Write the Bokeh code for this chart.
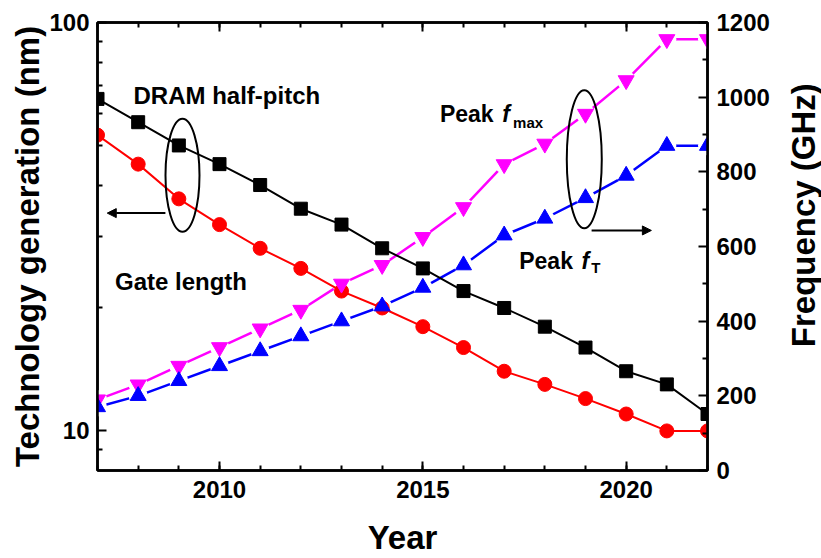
import math

from bokeh.plotting import figure
from bokeh.layouts import row
from bokeh.core.properties import value
from bokeh.models import (Range1d, LinearAxis, LinearScale, FixedTicker, Label, Arrow,
                          NormalHead)
from bokeh.embed import file_html
from bokeh.resources import INLINE

# ---- data -------------------------------------------------------------
years = list(range(2007, 2023))
dram_half_pitch = [65, 57, 50, 45, 40, 35, 32, 28, 25, 22, 20, 18, 16, 14, 13, 11]   # nm
gate_length = [53, 45, 37, 32, 28, 25, 22, 20, 18, 16, 14, 13, 12, 11, 10, 10]       # nm
peak_fmax = [190, 230, 280, 330, 380, 430, 500, 550, 625, 705, 820, 875, 955, 1045, 1155, 1155]  # GHz
peak_ft = [170, 200, 240, 280, 320, 360, 400, 440, 490, 550, 630, 675, 730, 790, 870, 870]       # GHz

year_major = [2010, 2015, 2020]
nm_major = [10, 100]
nm_minor = [9, 20, 30, 40, 50, 60, 70, 80, 90]
ghz_major = [0, 200, 400, 600, 800, 1000, 1200]
ghz_minor = [100, 300, 500, 700, 900, 1100]

FONT = "Liberation Sans"
HEIGHT = 558

p = figure(width=776, height=HEIGHT, x_range=Range1d(2007, 2022), y_range=Range1d(8, 100),
           y_axis_type="log", output_backend="svg", toolbar_location=None,
           min_border_left=97, min_border_right=69, min_border_top=22, min_border_bottom=88,
           background_fill_color="white", border_fill_color="white")
p.extra_y_ranges = {"freq": Range1d(0, 1200)}
p.extra_y_scales = {"freq": LinearScale()}
p.xgrid.visible = False
p.ygrid.visible = False
p.outline_line_color = "black"
p.outline_line_width = 2.5

# ---- axes -------------------------------------------------------------
xax = p.xaxis[0]
xax.ticker = FixedTicker(ticks=year_major, minor_ticks=years)
xax.axis_label = "Year"
xax.major_label_standoff = 10
xax.axis_label_standoff = 18

yax = p.yaxis[0]
yax.ticker = FixedTicker(ticks=nm_major, minor_ticks=nm_minor)
yax.major_label_overrides = {v: str(v) for v in nm_major}
yax.axis_label = "Technology generation (nm)"
yax.major_label_standoff = 8
yax.axis_label_standoff = 0

rax = LinearAxis(y_range_name="freq", ticker=FixedTicker(ticks=ghz_major, minor_ticks=ghz_minor))
rax.major_label_standoff = 9
p.add_layout(rax, "right")

# mirrored tick marks along the top edge, without labels
tax = LinearAxis(ticker=FixedTicker(ticks=year_major, minor_ticks=years))
tax.major_label_overrides = {v: "" for v in year_major}
tax.major_label_standoff = 0
p.add_layout(tax, "above")

for ax in (xax, yax, rax, tax):
    ax.axis_line_width = 2.5
    ax.axis_line_color = "black"
    ax.major_tick_in = 9
    ax.major_tick_out = 0
    ax.minor_tick_in = 5
    ax.minor_tick_out = 0
    ax.major_tick_line_width = 2
    ax.minor_tick_line_width = 2
    ax.major_tick_line_color = "black"
    ax.minor_tick_line_color = "black"
    ax.major_label_text_color = "black"
    ax.major_label_text_font = FONT
    ax.major_label_text_font_style = "bold"
    ax.major_label_text_font_size = "24px"
    ax.axis_label_text_font = FONT
    ax.axis_label_text_font_style = "bold"
    ax.axis_label_text_font_size = "33px"
    ax.axis_label_text_color = "black"

# ---- series -----------------------------------------------------------
# frequency lines, broken around their own markers by white halos
p.line(years, peak_fmax, y_range_name="freq", line_color="#FF00FF", line_width=2.5)
p.line(years, peak_ft, y_range_name="freq", line_color="#0000FF", line_width=2.5)
p.scatter(years, peak_fmax, y_range_name="freq", marker="circle", size=19,
          fill_color="white", line_color=None)
p.scatter(years, peak_ft, y_range_name="freq", marker="circle", size=19,
          fill_color="white", line_color=None)

p.line(years, dram_half_pitch, line_color="black", line_width=2)
p.line(years, gate_length, line_color="#FF0000", line_width=2)
p.scatter(years, dram_half_pitch, marker="square", size=13, fill_color="black", line_color="black")
p.scatter(years, gate_length, marker="circle", size=14, fill_color="#FF0000", line_color="#FF0000")

p.scatter(years, peak_fmax, y_range_name="freq", marker="inverted_triangle", size=16,
          fill_color="#FF00FF", line_color="#FF00FF")
p.scatter(years, peak_ft, y_range_name="freq", marker="triangle", size=16,
          fill_color="#0000FF", line_color="#0000FF")

# ---- annotations ------------------------------------------------------
p.ellipse(x=[2009.09, 2018.97], y=[790.6, 833.8], width=[34, 35], height=[113, 138],
          width_units="screen", height_units="screen", y_range_name="freq",
          fill_color=None, line_color="black", line_width=2)

p.add_layout(Arrow(end=NormalHead(size=9, fill_color="black", line_color="black"),
                   x_start=2008.67, y_start=689.4, x_end=2007.24, y_end=689.4,
                   y_range_name="freq", line_color="black", line_width=2))
p.add_layout(Arrow(end=NormalHead(size=9, fill_color="black", line_color="black"),
                   x_start=2019.15, y_start=643.0, x_end=2020.62, y_end=643.0,
                   y_range_name="freq", line_color="black", line_width=2))


def add_text(x, y, text, size="23px", style="bold"):
    p.add_layout(Label(x=x, y=y, y_range_name="freq", text=text, text_font=FONT,
                       text_font_size=size, text_font_style=style, text_color="black",
                       text_align="left", text_baseline="alphabetic"))


add_text(2007.886, 1005.4, "DRAM half-pitch", size="24px")
add_text(2007.43, 506.0, "Gate length", size="24px")
add_text(2015.42, 956.2, "Peak")
add_text(2016.95, 956.2, "f", style="bold italic")
add_text(2017.22, 931.0, "max", size="15px")
add_text(2017.37, 562.4, "Peak")
add_text(2018.90, 562.4, "f", style="bold italic")
add_text(2019.14, 544.0, "T", size="15px")

# ---- right-hand title strip (text reads bottom to top) ---------------
strip = figure(width=45, height=HEIGHT, x_range=Range1d(0, 45), y_range=Range1d(0, HEIGHT),
               output_backend="svg", toolbar_location=None, min_border=0,
               x_axis_location=None, y_axis_location=None,
               background_fill_color="white", border_fill_color="white")
strip.outline_line_color = None
strip.grid.visible = False
strip.text(x=[27], y=[HEIGHT - 240], text=["Frequency (GHz)"], angle=math.pi / 2,
           text_align="center", text_baseline="middle", text_font=value(FONT),
           text_font_size="33px", text_font_style="bold", text_color="black")

layout = row(p, strip, spacing=0)
open("out.html", "w").write(file_html(layout, INLINE))
